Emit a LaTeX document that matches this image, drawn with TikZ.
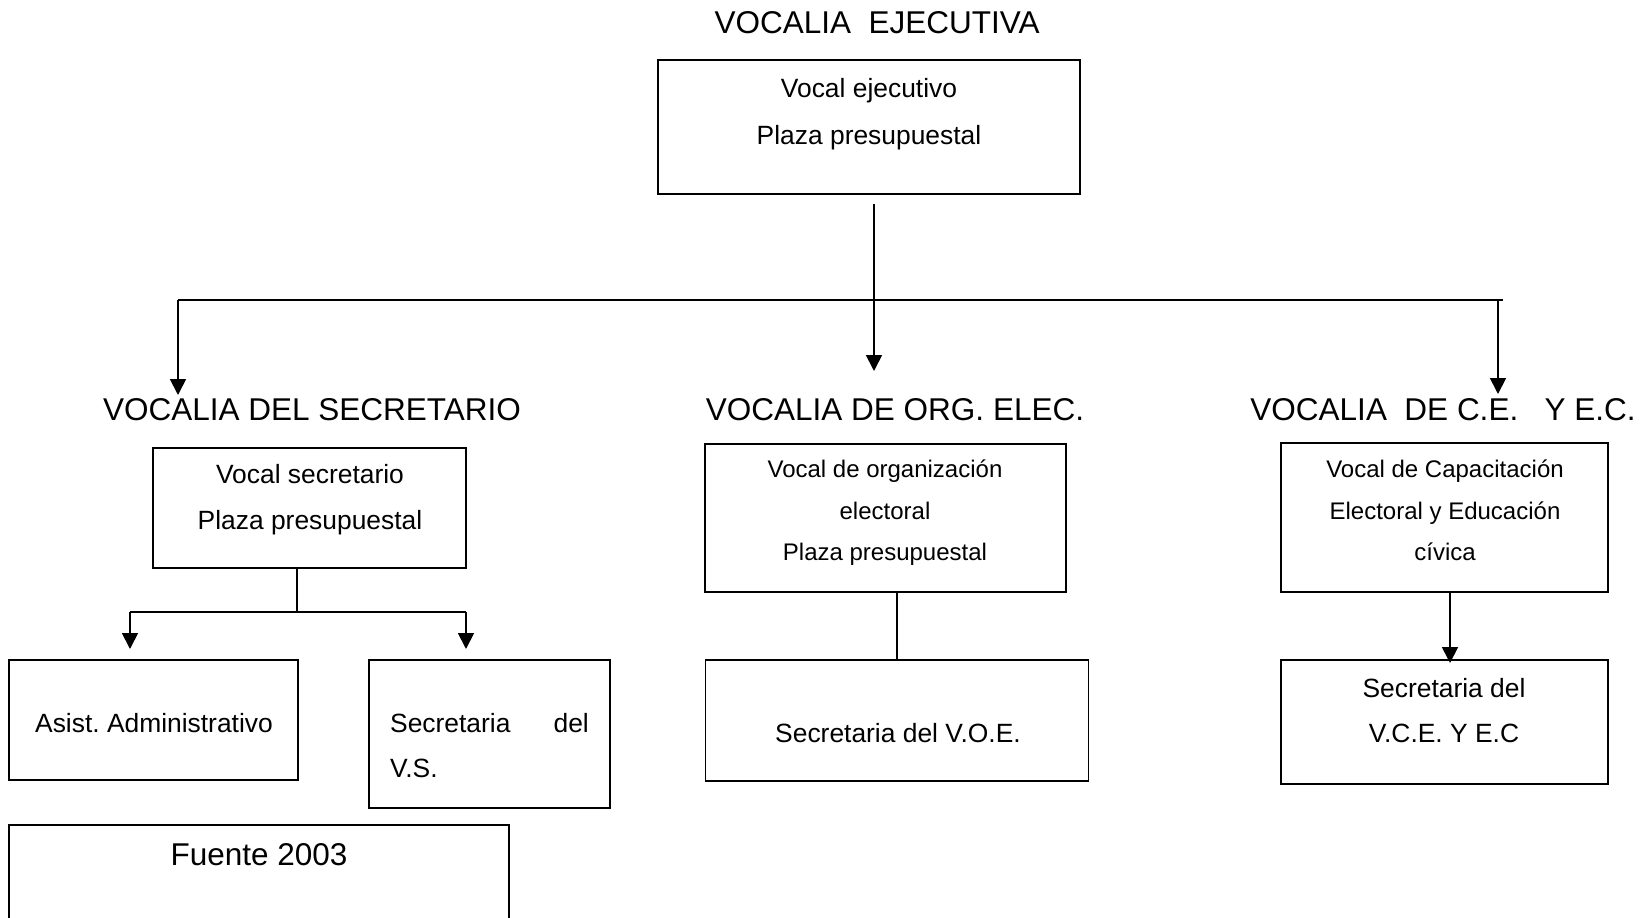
\documentclass[tikz,border=0pt]{standalone}
\usepackage{fontspec}
\setmainfont{Liberation Sans}
\usetikzlibrary{arrows.meta}
\frenchspacing
\begin{document}
\begin{tikzpicture}[x=1pt,y=-1pt,
  box/.style={draw, line width=1.8pt, inner sep=0pt, outer sep=0pt},
  head/.style={anchor=base, inner sep=0pt, font=\fontsize{31.5}{36}\selectfont},
  txt/.style={anchor=base, inner sep=0pt, font=\fontsize{26.4}{30}\selectfont},
  small/.style={anchor=base, inner sep=0pt, font=\fontsize{24}{28}\selectfont},
  conn/.style={line width=1.8pt},
  arr/.style={conn, -{Triangle[length=16pt,width=16pt]}}]
\useasboundingbox (0,0) rectangle (1650,918);
\fill[white] (0,0) rectangle (1650,918);
\clip (0,0) rectangle (1650,918);

% titles
\node[head] (hTop) at (877,33) {VOCALIA~~EJECUTIVA};
\node[head] (hSec) at (312,420) {VOCALIA DEL SECRETARIO};
\node[head] (hOrg) at (895,420) {VOCALIA DE ORG. ELEC.};
\node[head] (hCE)  at (1443,420) {VOCALIA~~DE C.E.~~~Y E.C.};

% boxes
\node[box, minimum width=422pt, minimum height=134pt] (top) at (869,127) {};
\node[box, minimum width=313pt, minimum height=120pt] (sec) at (309.5,508) {};
\node[box, minimum width=361pt, minimum height=148pt] (voe) at (885.5,518) {};
\node[box, minimum width=327pt, minimum height=149pt] (ce) at (1444.5,517.5) {};
\node[box, minimum width=289pt, minimum height=120pt] (asist) at (153.5,720) {};
\node[box, minimum width=241pt, minimum height=148pt] (vs) at (489.5,734) {};
\node[box, minimum width=383pt, minimum height=121pt] (voe2) at (897,720.5) {};
\node[box, minimum width=327pt, minimum height=124pt] (ce2) at (1444.5,722) {};
\node[box, minimum width=500pt, minimum height=135pt] (fuente) at (259,892.5) {};

% box texts
\node[txt] (topA) at (869,97) {Vocal ejecutivo};
\node[txt] (topB) at (869,144) {Plaza presupuestal};
\node[txt] (secA) at (310,483) {Vocal secretario};
\node[txt] (secB) at (310,529) {Plaza presupuestal};
\node[small] (voeA) at (885,477) {Vocal de organización};
\node[small] (voeB) at (885,519) {electoral};
\node[small] (voeC) at (885,560) {Plaza presupuestal};
\node[small] (ceA) at (1445,477) {Vocal de Capacitación};
\node[small] (ceB) at (1445,519) {Electoral y Educación};
\node[small] (ceC) at (1445,560) {cívica};
\node[txt] (asistA) at (154,732) {Asist. Administrativo};
\node[txt, anchor=base west] (vsA) at (390,732) {Secretaria};
\node[txt, anchor=base east] (vsB) at (589,732) {del};
\node[txt, anchor=base west] (vsC) at (390,777) {V.S.};
\node[txt] (voe2A) at (898,742) {Secretaria del V.O.E.};
\node[txt] (ce2A) at (1444,697) {Secretaria del};
\node[txt] (ce2B) at (1444,742) {V.C.E. Y E.C};
\node[head] (fuenteA) at (259,865) {Fuente 2003};

% connector points
\coordinate (c0) at (874,204);
\coordinate (cMid) at (874,371);
\coordinate (hL) at (178,300);
\coordinate (hR) at (1503,300);
\coordinate (tL) at (178,395);
\coordinate (vR) at (1498,300);
\coordinate (tR) at (1498,394);
\coordinate (s0) at (297,612);
\coordinate (sL) at (130,612);
\coordinate (sR) at (466,612);
\coordinate (aL) at (130,649);
\coordinate (aR) at (466,649);
\coordinate (ce0) at (1450,592);
\coordinate (ce1) at (1450,663);

% connectors
\draw[arr] (c0) -- (cMid);
\draw[conn] (hL) -- (hR);
\draw[arr] (hL) -- (tL);
\draw[arr] (vR) -- (tR);
\draw[conn] (sec.south -| s0) -- (s0);
\draw[conn] (sL) -- (sR);
\draw[arr] (sL) -- (aL);
\draw[arr] (sR) -- (aR);
\draw[conn] (voe2.north |- voe.south) -- (voe2.north);
\draw[arr] (ce0) -- (ce1);
\end{tikzpicture}
\end{document}
